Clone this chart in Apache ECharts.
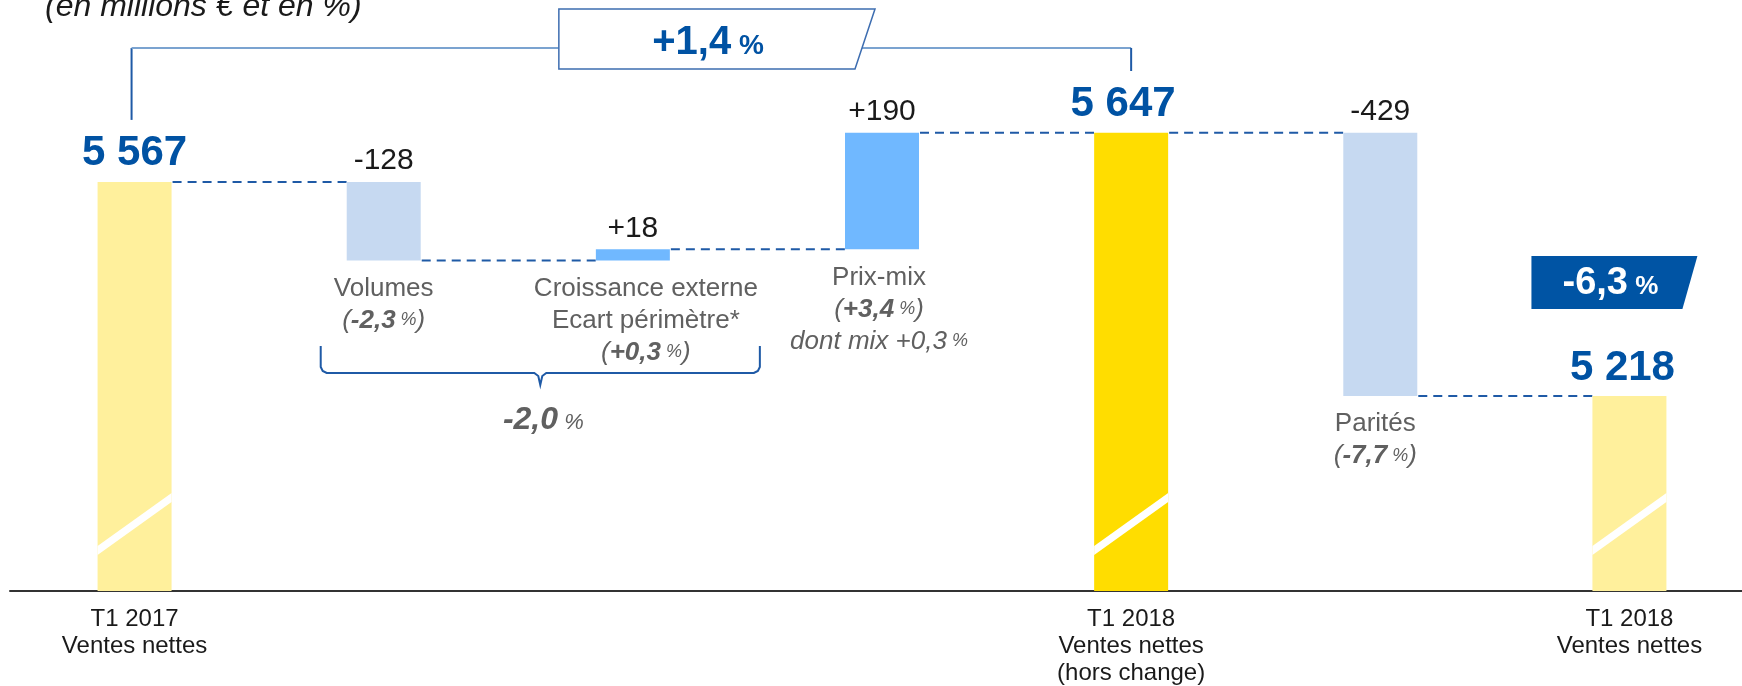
<!DOCTYPE html>
<html><head><meta charset="utf-8">
<script src="https://cdn.jsdelivr.net/npm/echarts@6/dist/echarts.min.js"></script>
<style>html,body{margin:0;padding:0;background:#fff}#c{width:1742px;height:686px}</style>
</head><body><div id="c"></div>
<script>
// ---------- data ----------
const categories = ['T1 2017\nVentes nettes', '', '', '', 'T1 2018\nVentes nettes\n(hors change)', '', 'T1 2018\nVentes nettes'];
const amounts = [5567, -128, 18, 190, 5647, -429, 5218];
const kinds = ['total', 'down', 'up', 'up', 'subtotal', 'down', 'total'];
const valueLabels = ['5 567', '-128', '+18', '+190', '5 647', '-429', '5 218'];
const driverNames = ['', 'Volumes', 'Croissance externe\nEcart périmètre*', 'Prix-mix', '', 'Parités', ''];
const driverPct = ['', '-2,3', '+0,3', '+3,4', '', '-7,7', ''];
const driverNotes = ['', '', '', 'dont mix +0,3', '', '', ''];
const growthLabel = '+1,4';
const fxLabel = '-6,3';
const organicLabel = '-2,0';
const unitNote = '(en millions € et en %)';
const axisMin = 4900, axisMax = 5800;

// ---------- styles ----------
const FONT = "'Liberation Sans', Arial, sans-serif";
const colors = { total: '#FFF09C', subtotal: '#FFDD00', up: '#70B8FF', down: '#C6D9F1' };
const BLUE = '#0052A3';
const GRAY = '#606060';
const descShiftX = { 2: 13, 3: -3, 5: -5 };
const valueShiftX = { 4: -8, 6: -7 };

// running levels
const rows = [];
let level = 0;
amounts.forEach((a, i) => {
  if (kinds[i] === 'total' || kinds[i] === 'subtotal') { rows.push([i, axisMin, a]); level = a; }
  else { const s = level, e = level + a; rows.push([i, s, e]); level = e; }
});

const LH = 32;
const richDesc = {
  n: { fontFamily: FONT, fontSize: 26, color: GRAY, fill: GRAY, lineHeight: LH },
  i: { fontFamily: FONT, fontSize: 26, fontStyle: 'italic', color: GRAY, fill: GRAY, lineHeight: LH },
  b: { fontFamily: FONT, fontSize: 26, fontStyle: 'italic', fontWeight: 'bold', color: GRAY, fill: GRAY, lineHeight: LH },
  p: { fontFamily: FONT, fontSize: 18, fontStyle: 'italic', color: GRAY, fill: GRAY, lineHeight: LH }
};

function descText(i) {
  if (!driverNames[i]) return '';
  const lines = driverNames[i].split('\n').map(t => '{n|' + t + '}');
  lines.push('{i|(}{b|' + driverPct[i] + '}{p| %}{i|)}');
  if (driverNotes[i]) lines.push('{i|' + driverNotes[i] + '}{p| %}');
  return lines.join('\n');
}

function renderItem(params, api) {
  const i = api.value(0), s = api.value(1), e = api.value(2);
  const kind = kinds[i];
  const bw = api.size([1, 0])[0] * 0.297;
  const pS = api.coord([i, s]), pE = api.coord([i, e]);
  const cx = pS[0];
  const top = Math.min(pS[1], pE[1]), bot = Math.max(pS[1], pE[1]);
  const xl = cx - bw / 2, xr = cx + bw / 2;
  const isTotal = kind === 'total' || kind === 'subtotal';
  const ch = [];
  ch.push({ type: 'rect', shape: { x: xl, y: top, width: bw, height: bot - top }, style: { fill: colors[kind] } });
  if (isTotal) {
    ch.push({ type: 'polygon', shape: { points: [[xl, bot - 45], [xr, bot - 98], [xr, bot - 89], [xl, bot - 36]] }, style: { fill: '#ffffff' } });
  }
  if (i < amounts.length - 1) {
    const nx = api.coord([i + 1, e])[0] - bw / 2;
    ch.push({ type: 'line', shape: { x1: xr + 1, y1: pE[1], x2: nx, y2: pE[1] }, style: { stroke: '#1F5AA6', lineWidth: 2, lineDash: [9, 6] } });
  }
  ch.push({
    type: 'text',
    style: {
      text: valueLabels[i], x: cx + (valueShiftX[i] || 0), y: top - (isTotal ? 28 : 21),
      align: 'center', verticalAlign: 'middle', textAlign: 'center', textVerticalAlign: 'middle',
      fontFamily: FONT, fontSize: isTotal ? 42 : 30, fontWeight: isTotal ? 'bold' : 'normal',
      fill: isTotal ? BLUE : '#1a1a1a'
    }
  });
  const d = descText(i);
  if (d) {
    ch.push({
      type: 'text',
      style: {
        text: d, x: cx + (descShiftX[i] || 0), y: bot + 12, align: 'center', verticalAlign: 'top', textAlign: 'center', textVerticalAlign: 'top',
        rich: richDesc, fontFamily: FONT, fontSize: 26, fill: GRAY
      }
    });
  }
  return { type: 'group', children: ch };
}

const chart = echarts.init(document.getElementById('c'), null, { renderer: 'canvas' });
chart.setOption({
  animation: false,
  backgroundColor: '#ffffff',
  grid: { left: 10, right: -12, top: 39, bottom: 95, containLabel: false, outerBoundsMode: 'none' },
  xAxis: {
    type: 'category', data: categories, boundaryGap: true,
    axisLine: { show: true, lineStyle: { color: '#333333', width: 2 } },
    axisTick: { show: false },
    axisLabel: { interval: 0, fontFamily: FONT, fontSize: 24, lineHeight: 27, color: '#1a1a1a', margin: 15 }
  },
  yAxis: { type: 'value', min: axisMin, max: axisMax, show: false, splitLine: { show: false } },
  series: [{ type: 'custom', renderItem: renderItem, data: rows, clip: false, encode: { x: 0, y: [1, 2] } }]
});

// ---------- annotations ----------
const P = (i, v) => chart.convertToPixel({ gridIndex: 0 }, [i, v]);
const x0 = P(0, axisMin)[0], x1 = P(1, axisMin)[0], x2 = P(2, axisMin)[0], x3 = P(3, axisMin)[0];
const x4 = P(4, axisMin)[0], x6 = P(6, axisMin)[0];
const top0 = P(0, amounts[0])[1];
const yB = 48;
const boxL = x2 - 74, boxTR = x3 - 7, boxBR = x3 - 27, boxT = 9, boxB = 69;
const boxRAtLine = boxTR + (boxBR - boxTR) * (yB - boxT) / (boxB - boxT);
const fxL = x6 - 98, fxTR = x6 + 68, fxBR = x6 + 53, fxT = 256, fxB = 309;
const brL = x1 - 63, brR = x2 + 127, brM = (brL + brR) / 2, brT = 346, brY = 373, brTip = 385;

chart.setOption({
  graphic: [
    { type: 'text', x: 45, y: 7, style: { text: unitNote, fontFamily: FONT, fontSize: 32, fontStyle: 'italic', fill: '#1a1a1a', align: 'left', verticalAlign: 'middle' } },
    { type: 'line', shape: { x1: x0 - 3, y1: top0 - 62, x2: x0 - 3, y2: yB }, style: { stroke: '#1F5AA6', lineWidth: 2 } },
    { type: 'line', shape: { x1: x0 - 3, y1: yB, x2: boxL, y2: yB }, style: { stroke: '#7BA3D0', lineWidth: 2 } },
    { type: 'line', shape: { x1: boxRAtLine, y1: yB, x2: x4, y2: yB }, style: { stroke: '#7BA3D0', lineWidth: 2 } },
    { type: 'line', shape: { x1: x4, y1: yB, x2: x4, y2: 71 }, style: { stroke: '#1F5AA6', lineWidth: 2 } },
    { type: 'polygon', shape: { points: [[boxL, boxT], [boxTR, boxT], [boxBR, boxB], [boxL, boxB]] }, style: { fill: '#ffffff', stroke: '#3D6DB0', lineWidth: 1.5 } },
    { type: 'text', x: 708, y: 43, style: {
        text: '{a|' + growthLabel + '}{s| %}', align: 'center', verticalAlign: 'middle',
        rich: { a: { fontFamily: FONT, fontSize: 40, fontWeight: 'bold', fill: BLUE, color: BLUE }, s: { fontFamily: FONT, fontSize: 28, fontWeight: 'bold', fill: BLUE, color: BLUE, padding: [6, 0, 0, 0] } } } },
    { type: 'polygon', shape: { points: [[fxL, fxT], [fxTR, fxT], [fxBR, fxB], [fxL, fxB]] }, style: { fill: '#0054A4' } },
    { type: 'text', x: x6 - 19, y: 284, style: {
        text: '{a|' + fxLabel + '}{s| %}', align: 'center', verticalAlign: 'middle',
        rich: { a: { fontFamily: FONT, fontSize: 38, fontWeight: 'bold', fill: '#ffffff', color: '#ffffff' }, s: { fontFamily: FONT, fontSize: 26, fontWeight: 'bold', fill: '#ffffff', color: '#ffffff', padding: [6, 0, 0, 0] } } } },
    { type: 'polyline', shape: { points: [[brL, brT], [brL, brY - 6], [brL + 2, brY - 2], [brL + 6, brY], [brM - 6, brY], [brM - 2, brY + 3], [brM, brTip], [brM + 2, brY + 3], [brM + 6, brY], [brR - 6, brY], [brR - 2, brY - 2], [brR, brY - 6], [brR, brT]] }, style: { stroke: '#1F5AA6', lineWidth: 2, fill: null } },
    { type: 'text', x: brM + 3, y: 420, style: {
        text: '{a|' + organicLabel + '}{s| %}', align: 'center', verticalAlign: 'middle',
        rich: { a: { fontFamily: FONT, fontSize: 32, fontWeight: 'bold', fontStyle: 'italic', fill: GRAY, color: GRAY }, s: { fontFamily: FONT, fontSize: 22, fontStyle: 'italic', fill: GRAY, color: GRAY, padding: [5, 0, 0, 0] } } } }
  ]
});
</script>
</body></html>
